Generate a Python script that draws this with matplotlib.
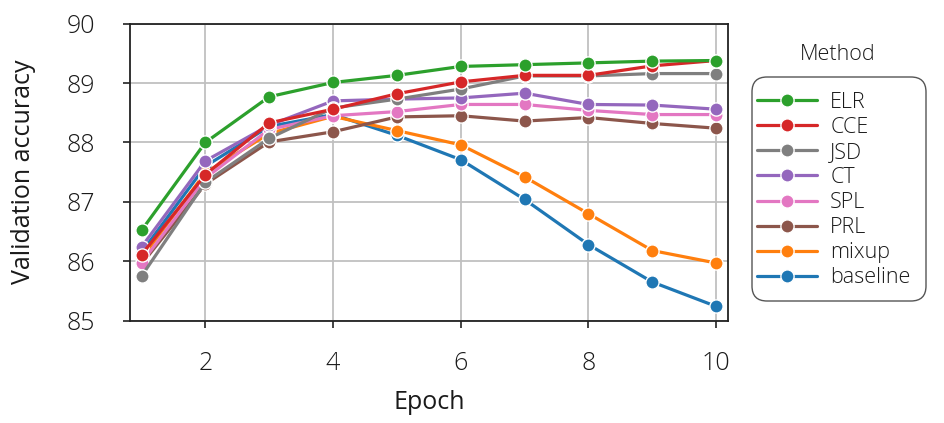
import matplotlib.pyplot as plt
import matplotlib.patches as mpatches
import matplotlib.transforms as mtrans
import seaborn as sns
import pandas as pd

epochs = [1, 2, 3, 4, 5, 6, 7, 8, 9, 10]
methods = ["ELR", "CCE", "JSD", "CT", "SPL", "PRL", "mixup", "baseline"]
elr = [86.52, 88.00, 88.77, 89.01, 89.13, 89.28, 89.31, 89.34, 89.37, 89.38]
cce = [86.11, 87.46, 88.33, 88.56, 88.82, 89.02, 89.13, 89.13, 89.29, 89.38]
jsd = [85.75, 87.33, 88.07, 88.58, 88.73, 88.90, 89.12, 89.12, 89.16, 89.16]
ct = [86.24, 87.69, 88.29, 88.70, 88.73, 88.75, 88.83, 88.64, 88.63, 88.56]
spl = [85.97, 87.40, 88.22, 88.45, 88.52, 88.64, 88.64, 88.54, 88.47, 88.47]
prl = [85.95, 87.30, 88.01, 88.18, 88.43, 88.45, 88.36, 88.42, 88.32, 88.24]
mixup = [86.05, 87.49, 88.15, 88.44, 88.20, 87.96, 87.42, 86.80, 86.18, 85.97]
baseline = [86.15, 87.60, 88.27, 88.47, 88.12, 87.71, 87.04, 86.28, 85.65, 85.24]
colors = ["#2ca02c", "#d62728", "#7f7f7f", "#9467bd", "#e377c2",
          "#8c564b", "#ff7f0e", "#1f77b4"]

series = [elr, cce, jsd, ct, spl, prl, mixup, baseline]
rows = []
for m, vals in zip(methods, series):
    for e, v in zip(epochs, vals):
        rows.append({"Epoch": e, "Validation accuracy": v, "Method": m})
df = pd.DataFrame(rows)

sns.set_style("whitegrid")
plt.rcParams["font.family"] = ["Open Sans", "DejaVu Sans"]
plt.rcParams["font.weight"] = "light"
txt = "#1a1a1a"
plt.rcParams["text.color"] = txt
plt.rcParams["axes.labelcolor"] = txt
plt.rcParams["xtick.color"] = txt
plt.rcParams["ytick.color"] = txt

W, H = 945, 423
fig = plt.figure(figsize=(W / 100, H / 100), dpi=100)
ax = fig.add_axes([0.1376, 0.242, 0.6324, 0.702])

# draw back to front so ELR ends on top
for m, c in reversed(list(zip(methods, colors))):
    d = df[df["Method"] == m]
    ax.plot(d["Epoch"], d["Validation accuracy"], color=c, lw=2.3,
            marker="o", ms=9.5, mec="white", mew=1.0, label=m)

ax.set_xlim(0.82, 10.18)
ax.set_ylim(85, 90)
ax.set_xticks([2, 4, 6, 8, 10])
ax.set_yticks([85, 86, 87, 88, 89, 90])
ax.grid(True, color="#c0c0c0", lw=1.3)
for s in ax.spines.values():
    s.set_color("#222222")
    s.set_linewidth(1.3)
ax.tick_params(axis="both", which="major", labelsize=18, length=5,
               width=1.2, color="#222222", bottom=True, left=True)
ax.tick_params(axis="y", pad=20)
ax.tick_params(axis="x", pad=17)
ax.set_xlabel("Epoch", fontsize=18, labelpad=10)
ax.set_ylabel("Validation accuracy", fontsize=18, labelpad=22)

# legend: entries without frame, rounded box drawn separately (pixels)
handles, labels = ax.get_legend_handles_labels()
handles, labels = handles[::-1], labels[::-1]
fig.legend(handles, labels, loc="center left",
           bbox_to_anchor=(757 / W, 1 - 190 / H),
           borderaxespad=0, borderpad=0, frameon=False,
           fontsize=15.5, handlelength=2.8,
           labelspacing=0.19, handletextpad=0.6)
box = mpatches.FancyBboxPatch((752, H - 301), 174, 224,
                              boxstyle="round,pad=0,rounding_size=15",
                              transform=mtrans.IdentityTransform(),
                              facecolor="white", edgecolor="#555555",
                              lw=1.0, zorder=-1)
fig.patches.append(box)
fig.text(838 / W, 1 - 54 / H, "Method", fontsize=15.5,
         ha="center", va="center")

fig.savefig("out.png", dpi=100)
